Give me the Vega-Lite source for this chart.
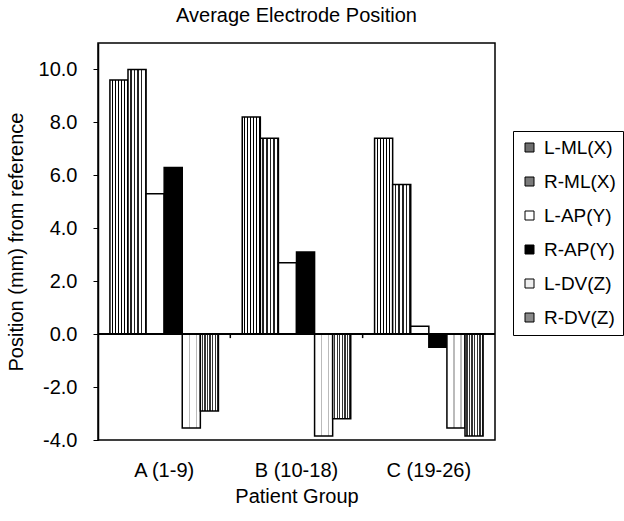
{
  "$schema": "https://vega.github.io/schema/vega-lite/v6.json",
  "autosize": {"type": "none"},
  "padding": {"left": 98, "top": 43, "right": 129, "bottom": 81},
  "width": 397,
  "height": 397,
  "background": "white",
  "title": {"text": "Average Electrode Position", "fontSize": 20, "fontWeight": "normal", "font": "Liberation Sans", "color": "black", "offset": 17, "anchor": "middle"},
  "config": {
    "font": "Liberation Sans",
    "view": {"stroke": "black", "strokeWidth": 1.5},
    "axis": {"labelColor": "black", "titleColor": "black", "domainColor": "black", "tickColor": "black", "grid": false, "labelFont": "Liberation Sans", "titleFont": "Liberation Sans", "titleFontWeight": "normal"}
  },
  "data": {"values": [
    {"group": "A (1-9)", "series": "L-ML(X)", "value": 9.6},
    {"group": "A (1-9)", "series": "R-ML(X)", "value": 10.0},
    {"group": "A (1-9)", "series": "L-AP(Y)", "value": 5.3},
    {"group": "A (1-9)", "series": "R-AP(Y)", "value": 6.3},
    {"group": "A (1-9)", "series": "L-DV(Z)", "value": -3.55},
    {"group": "A (1-9)", "series": "R-DV(Z)", "value": -2.9},
    {"group": "B (10-18)", "series": "L-ML(X)", "value": 8.2},
    {"group": "B (10-18)", "series": "R-ML(X)", "value": 7.4},
    {"group": "B (10-18)", "series": "L-AP(Y)", "value": 2.7},
    {"group": "B (10-18)", "series": "R-AP(Y)", "value": 3.1},
    {"group": "B (10-18)", "series": "L-DV(Z)", "value": -3.85},
    {"group": "B (10-18)", "series": "R-DV(Z)", "value": -3.2},
    {"group": "C (19-26)", "series": "L-ML(X)", "value": 7.4},
    {"group": "C (19-26)", "series": "R-ML(X)", "value": 5.65},
    {"group": "C (19-26)", "series": "L-AP(Y)", "value": 0.3},
    {"group": "C (19-26)", "series": "R-AP(Y)", "value": -0.5},
    {"group": "C (19-26)", "series": "L-DV(Z)", "value": -3.55},
    {"group": "C (19-26)", "series": "R-DV(Z)", "value": -3.85}
  ]},
  "layer": [
    {
      "mark": {"type": "bar", "stroke": "black", "strokeWidth": 1.5},
      "encoding": {
        "x": {"field": "group", "type": "nominal", "sort": null,
              "scale": {"paddingInner": 0.18, "paddingOuter": 0.09},
              "axis": {"title": "Patient Group", "labelAngle": 0, "labelFontSize": 20, "titleFontSize": 20, "ticks": false, "domain": false, "labelPadding": 20, "titlePadding": 6}},
        "xOffset": {"field": "series", "type": "nominal",
                    "sort": ["L-ML(X)", "R-ML(X)", "L-AP(Y)", "R-AP(Y)", "L-DV(Z)", "R-DV(Z)"],
                    "scale": {"paddingInner": 0, "paddingOuter": 0}},
        "y": {"field": "value", "type": "quantitative",
              "scale": {"domain": [-4, 11], "nice": false, "zero": false},
              "axis": {"title": "Position (mm) from reference", "values": [-4, -2, 0, 2, 4, 6, 8, 10], "labelExpr": "replace(format(datum.value, '.1f'), '\u2212', '-')", "labelFontSize": 20, "titleFontSize": 20, "tickSize": 5, "labelPadding": 16, "titlePadding": 12, "domainWidth": 1.5}},
        "fill": {
          "field": "series", "type": "nominal",
          "sort": ["L-ML(X)", "R-ML(X)", "L-AP(Y)", "R-AP(Y)", "L-DV(Z)", "R-DV(Z)"],
          "scale": {"domain": ["L-ML(X)", "R-ML(X)", "L-AP(Y)", "R-AP(Y)", "L-DV(Z)", "R-DV(Z)"], "range": ["#6e6e6e", "#7a7a7a", "#ffffff", "#000000", "#eeeeee", "#8a8a8a"]},
          "legend": {"title": null, "orient": "none", "legendX": 415, "legendY": 88, "strokeColor": "black", "padding": 7, "labelFontSize": 19, "labelColor": "black", "symbolType": "square", "symbolSize": 81, "symbolStrokeColor": "black", "symbolStrokeWidth": 1, "rowPadding": 14, "labelOffset": 5, "fillColor": "white"},
          "condition": [
            {"test": "datum.series === 'L-ML(X)'", "value": {"gradient": "linear", "x1": 0, "y1": 0, "x2": 1, "y2": 0, "stops": [
              {"offset": 0, "color": "#fff"}, {"offset": 0.108, "color": "#fff"}, {"offset": 0.108, "color": "#000"}, {"offset": 0.167, "color": "#000"},
              {"offset": 0.167, "color": "#fff"}, {"offset": 0.275, "color": "#fff"}, {"offset": 0.275, "color": "#000"}, {"offset": 0.333, "color": "#000"},
              {"offset": 0.333, "color": "#fff"}, {"offset": 0.442, "color": "#fff"}, {"offset": 0.442, "color": "#000"}, {"offset": 0.5, "color": "#000"},
              {"offset": 0.5, "color": "#fff"}, {"offset": 0.608, "color": "#fff"}, {"offset": 0.608, "color": "#000"}, {"offset": 0.667, "color": "#000"},
              {"offset": 0.667, "color": "#fff"}, {"offset": 0.775, "color": "#fff"}, {"offset": 0.775, "color": "#000"}, {"offset": 0.833, "color": "#000"},
              {"offset": 0.833, "color": "#fff"}, {"offset": 0.942, "color": "#fff"}, {"offset": 0.942, "color": "#000"}, {"offset": 1, "color": "#000"}]}},
            {"test": "datum.series === 'R-ML(X)'", "value": {"gradient": "linear", "x1": 0, "y1": 0, "x2": 1, "y2": 0, "stops": [
              {"offset": 0, "color": "#fff"}, {"offset": 0.12, "color": "#fff"}, {"offset": 0.12, "color": "#222"}, {"offset": 0.2, "color": "#222"},
              {"offset": 0.2, "color": "#fff"}, {"offset": 0.32, "color": "#fff"}, {"offset": 0.32, "color": "#222"}, {"offset": 0.4, "color": "#222"},
              {"offset": 0.4, "color": "#fff"}, {"offset": 0.52, "color": "#fff"}, {"offset": 0.52, "color": "#222"}, {"offset": 0.6, "color": "#222"},
              {"offset": 0.6, "color": "#fff"}, {"offset": 0.72, "color": "#fff"}, {"offset": 0.72, "color": "#222"}, {"offset": 0.8, "color": "#222"},
              {"offset": 0.8, "color": "#fff"}, {"offset": 0.92, "color": "#fff"}, {"offset": 0.92, "color": "#222"}, {"offset": 1, "color": "#222"}]}},
            {"test": "datum.series === 'L-DV(Z)'", "value": {"gradient": "linear", "x1": 0, "y1": 0, "x2": 1, "y2": 0, "stops": [
              {"offset": 0, "color": "#fff"}, {"offset": 0.35, "color": "#fff"}, {"offset": 0.35, "color": "#bbb"}, {"offset": 0.42, "color": "#bbb"},
              {"offset": 0.42, "color": "#fff"}, {"offset": 0.74, "color": "#fff"}, {"offset": 0.74, "color": "#bbb"}, {"offset": 0.81, "color": "#bbb"},
              {"offset": 0.81, "color": "#fff"}, {"offset": 1, "color": "#fff"}]}},
            {"test": "datum.series === 'R-DV(Z)'", "value": {"gradient": "linear", "x1": 0, "y1": 0, "x2": 1, "y2": 0, "stops": [
              {"offset": 0, "color": "#fff"}, {"offset": 0.071, "color": "#fff"}, {"offset": 0.071, "color": "#333"}, {"offset": 0.143, "color": "#333"},
              {"offset": 0.143, "color": "#fff"}, {"offset": 0.214, "color": "#fff"}, {"offset": 0.214, "color": "#333"}, {"offset": 0.286, "color": "#333"},
              {"offset": 0.286, "color": "#fff"}, {"offset": 0.357, "color": "#fff"}, {"offset": 0.357, "color": "#333"}, {"offset": 0.429, "color": "#333"},
              {"offset": 0.429, "color": "#fff"}, {"offset": 0.5, "color": "#fff"}, {"offset": 0.5, "color": "#333"}, {"offset": 0.571, "color": "#333"},
              {"offset": 0.571, "color": "#fff"}, {"offset": 0.643, "color": "#fff"}, {"offset": 0.643, "color": "#333"}, {"offset": 0.714, "color": "#333"},
              {"offset": 0.714, "color": "#fff"}, {"offset": 0.786, "color": "#fff"}, {"offset": 0.786, "color": "#333"}, {"offset": 0.857, "color": "#333"},
              {"offset": 0.857, "color": "#fff"}, {"offset": 0.929, "color": "#fff"}, {"offset": 0.929, "color": "#333"}, {"offset": 1, "color": "#333"}]}}
          ]
        }
      }
    },
    {
      "mark": {"type": "rule", "color": "black", "strokeWidth": 1.5},
      "encoding": {"y": {"datum": 0}}
    },
    {
      "transform": [{"filter": "datum.series === 'L-ML(X)' && datum.group !== 'A (1-9)'"}],
      "mark": {"type": "rule", "color": "black", "strokeWidth": 1.5},
      "encoding": {
        "x": {"field": "group", "type": "nominal", "sort": null, "bandPosition": -0.11},
        "y": {"datum": 0},
        "y2": {"datum": -0.15}
      }
    }
  ]
}
